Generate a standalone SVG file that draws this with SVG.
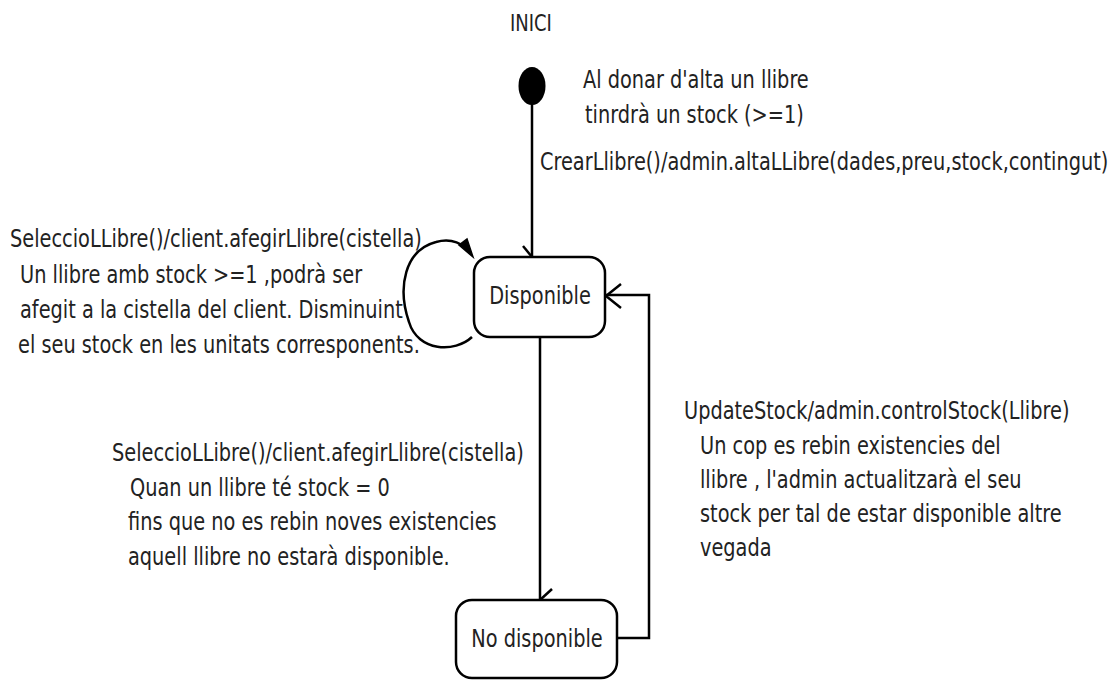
<svg xmlns="http://www.w3.org/2000/svg" width="1117" height="680" viewBox="0 0 1117 680">
<style>
text{font-family:"DejaVu Sans Condensed","DejaVu Sans","Liberation Sans",sans-serif;font-stretch:condensed;font-size:21.5px;fill:#222}
.state{fill:#fff;stroke:#000;stroke-width:2.5}
.edge{fill:none;stroke:#000;stroke-width:2.5}
.st{text-anchor:middle}
</style>
<rect width="1117" height="680" fill="#fff"/>
<g id="connectors">
<line class="edge" x1="532" y1="104" x2="532" y2="257"/>
<line class="edge" x1="532" y1="257" x2="523" y2="246"/>
<line class="edge" x1="540" y1="337" x2="540" y2="600"/>
<line class="edge" x1="540" y1="600" x2="552" y2="589"/>
<polyline class="edge" points="617,638 649,638 649,295 606,295"/>
<polyline class="edge" points="621,284 606,296 621,308"/>
<path class="edge" d="M472,337 C455,353 418,352 409,322 C397,287 405,250 436,242 C450,238 460,243 466,248"/>
<polygon points="473,257 459,245 467,239" fill="#000" stroke="#000" stroke-width="1.5"/>
</g>
<g id="inici">
<ellipse cx="532" cy="86" rx="13.5" ry="19" fill="#000"/>
<text transform="translate(510,31) scale(1,1.18)" style="font-size:20px">INICI</text>
</g>
<g id="disponible">
<rect class="state" x="474" y="257" width="131" height="80" rx="16"/>
<text class="st" transform="translate(540,304) scale(1,1.18)">Disponible</text>
</g>
<g id="no-disponible">
<rect class="state" x="456" y="600" width="161" height="78" rx="16"/>
<text class="st" transform="translate(537,647) scale(1,1.18)">No disponible</text>
</g>
<g id="labels">
<text transform="translate(583,88) scale(1,1.18)">Al donar d'alta un llibre</text>
<text transform="translate(585,123) scale(1,1.18)">tinrdrà un stock (&gt;=1)</text>
<text transform="translate(540,170) scale(1,1.18)">CrearLlibre()/admin.altaLLibre(dades,preu,stock,contingut)</text>
<text transform="translate(10,247) scale(1,1.18)">SeleccioLLibre()/client.afegirLlibre(cistella)</text>
<text transform="translate(20,283) scale(1,1.18)">Un llibre amb stock &gt;=1 ,podrà ser</text>
<text transform="translate(20,318) scale(1,1.18)">afegit a la cistella del client. Disminuint</text>
<text transform="translate(18,353) scale(1,1.18)">el seu stock en les unitats corresponents.</text>
<text transform="translate(684,419) scale(1,1.18)">UpdateStock/admin.controlStock(Llibre)</text>
<text transform="translate(700,454) scale(1,1.18)">Un cop es rebin existencies del</text>
<text transform="translate(700,488) scale(1,1.18)">llibre , l'admin actualitzarà el seu</text>
<text transform="translate(700,522) scale(1,1.18)">stock per tal de estar disponible altre</text>
<text transform="translate(700,556) scale(1,1.18)">vegada</text>
<text transform="translate(112,461) scale(1,1.18)">SeleccioLLibre()/client.afegirLlibre(cistella)</text>
<text transform="translate(130,496) scale(1,1.18)">Quan un llibre té stock = 0</text>
<text transform="translate(128,530) scale(1,1.18)">fins que no es rebin noves existencies</text>
<text transform="translate(128,565) scale(1,1.18)">aquell llibre no estarà disponible.</text>
</g>
</svg>
